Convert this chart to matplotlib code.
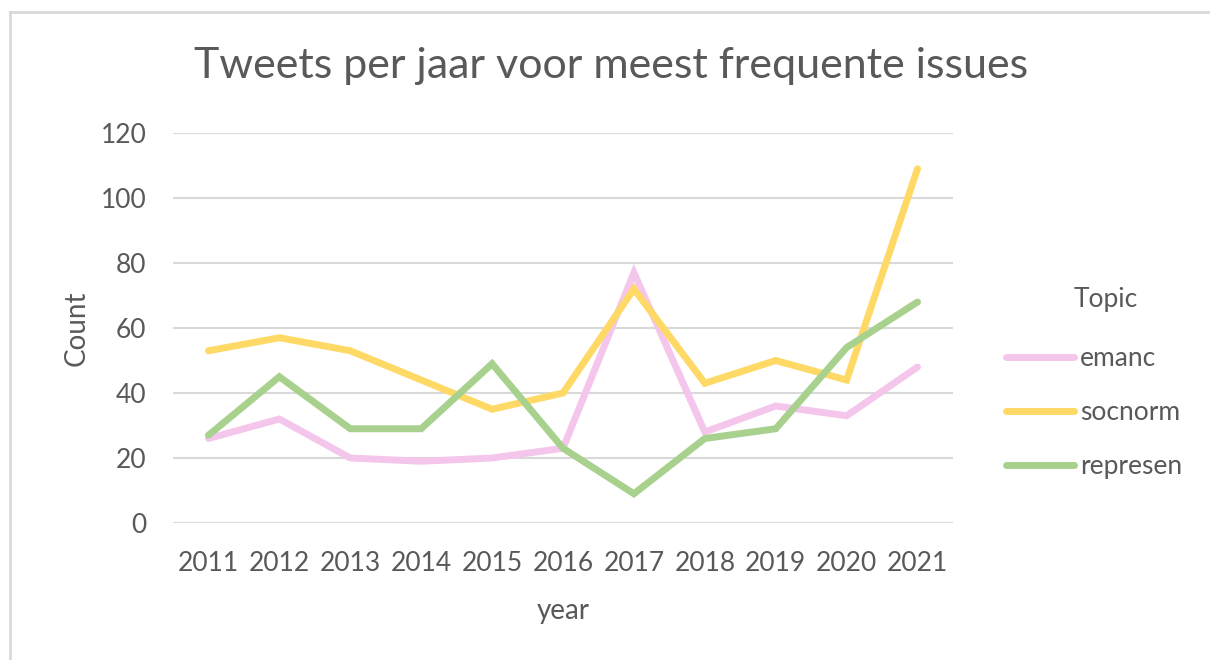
import matplotlib
matplotlib.use("Agg")
import matplotlib.pyplot as plt

# Data
years = [2011, 2012, 2013, 2014, 2015, 2016, 2017, 2018, 2019, 2020, 2021]
emanc = [26, 32, 20, 19, 20, 23, 77, 28, 36, 33, 48]
socnorm = [53, 57, 53, 44, 35, 40, 72, 43, 50, 44, 109]
represen = [27, 45, 29, 29, 49, 23, 9, 26, 29, 54, 68]
series_names = ["emanc", "socnorm", "represen"]
series_colors = ["#F4C6EC", "#FFD966", "#A9D18E"]

TEXT = "#595959"
plt.rcParams["font.family"] = ["Lato", "DejaVu Sans"]

fig = plt.figure(figsize=(12.1, 6.6), dpi=100)
ax = fig.add_axes([173 / 1210, 1 - 523 / 660, 780 / 1210, 390 / 660])

for name, vals, col in zip(series_names, [emanc, socnorm, represen], series_colors):
    ax.plot(years, vals, color=col, lw=5, solid_capstyle="round",
            solid_joinstyle="miter", label=name, zorder=3)

ax.set_xlim(2010.5, 2021.5)
ax.set_ylim(0, 120)
ax.set_yticks(range(0, 121, 20))
ax.set_xticks(years)
ax.grid(axis="y", color="#D9D9D9", lw=1.5, zorder=0)
for s in ax.spines.values():
    s.set_visible(False)
ax.tick_params(length=0, labelsize=19, labelcolor=TEXT)
ax.tick_params(axis="x", pad=20)
ax.tick_params(axis="y", pad=19)

ax.set_ylabel("Count", fontsize=20, color=TEXT, labelpad=8)
ax.set_xlabel("year", fontsize=20, color=TEXT, labelpad=16)
fig.text(611 / 1210, 1 - 66 / 660, "Tweets per jaar voor meest frequente issues",
         fontsize=31, color=TEXT, ha="center", va="center")

# legend title drawn separately so its gap matches the reference
fig.text(1106 / 1210, 1 - 300 / 660, "Topic", fontsize=19, color=TEXT,
         ha="center", va="center")
leg = fig.legend(loc="upper left", bbox_to_anchor=(982 / 1210, 1 - 322 / 660),
                 frameon=False, fontsize=19,
                 handlelength=2.6, handletextpad=0.2, labelspacing=1.1,
                 labelcolor=TEXT)

# light frame on top and left edge, as in the cropped screenshot
fig.add_artist(plt.Line2D([10 / 1210, 10 / 1210], [0, 1 - 12 / 660],
                          transform=fig.transFigure, color="#D9D9D9", lw=2))
fig.add_artist(plt.Line2D([10 / 1210, 1], [1 - 12 / 660, 1 - 12 / 660],
                          transform=fig.transFigure, color="#D9D9D9", lw=2))

fig.savefig("out.png", dpi=100, facecolor="white")
